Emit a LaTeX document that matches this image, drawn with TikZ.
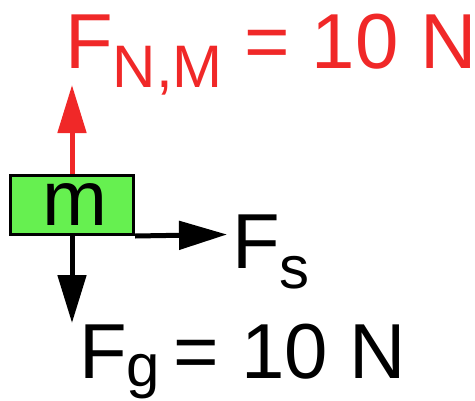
\documentclass[tikz,border=0pt]{standalone}
\usepackage{fontspec}
\setmainfont{Liberation Sans}
\usetikzlibrary{arrows.meta}
\definecolor{boxgreen}{RGB}{102,240,80}
\definecolor{fred}{RGB}{240,40,40}
\newcommand{\bigf}{\fontsize{78}{80}\selectfont}
\newcommand{\subf}{\fontsize{60}{62}\selectfont}
\begin{document}
\begin{tikzpicture}[x=1pt,y=-1pt,
  mass/.style={draw=black,line width=3pt,fill=boxgreen,minimum width=123pt,minimum height=59pt,inner sep=0pt,font=\bigf},
  force/.style={line width=5pt,-{Triangle[length=48pt,width=28pt]}},
  lbl/.style={inner sep=0pt,anchor=base west,font=\bigf}]
\useasboundingbox (0,0) rectangle (475,400);
\node[mass] (m) at (72,205) {\kern6pt m};
\coordinate (up) at (72,85);
\coordinate (down) at (72,323);
\coordinate (right) at (227,234.5);
\draw[force,fred] (m.north) -- (up);
\draw[force,black] (m.south) -- (down);
\draw[force,black] (m.south east) -- (right);
\node[lbl,text=fred] (fn) at (65,68) {F\raisebox{-19pt}{\subf N,M} = 10 N};
\node[lbl] (fs) at (232,268) {F\raisebox{-20pt}{\subf s}};
\node[lbl] (fg) at (79,378) {F\raisebox{-8pt}{\subf g}\kern-8pt{} = 10 N};
\end{tikzpicture}
\end{document}
